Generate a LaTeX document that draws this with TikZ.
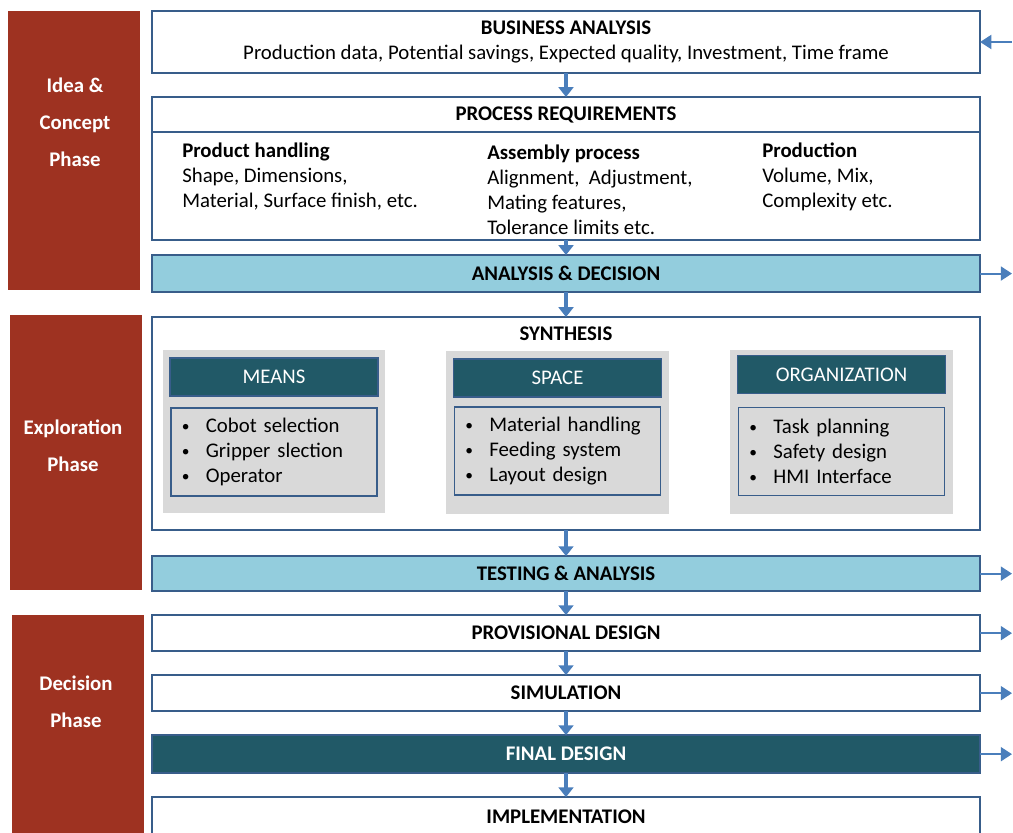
\documentclass[tikz,border=0pt]{standalone}
\usepackage{fontspec}
\setmainfont{Carlito}
\usetikzlibrary{positioning,arrows.meta}

\definecolor{phasered}{RGB}{158,50,33}
\definecolor{frameblue}{RGB}{56,93,138}
\definecolor{arrowblue}{RGB}{74,126,187}
\definecolor{lightcyan}{RGB}{147,205,221}
\definecolor{darkteal}{RGB}{33,89,103}
\definecolor{panelgray}{RGB}{217,217,217}

\newcommand{\listdot}{\raisebox{0.8pt}{\fontsize{11}{11}\selectfont\textbullet}\hspace{11.5pt}}

\begin{document}
\begin{tikzpicture}[x=0.025cm, y=-0.025cm, node distance=0.6cm, font=\fontsize{14.8}{17.7}\selectfont]
    % Styles
    \tikzstyle{stage}=[rectangle, draw=frameblue, line width=1.6pt, fill=white, minimum width=20.7cm, inner sep=0pt, outer sep=0pt, align=center]
    \tikzstyle{phase}=[rectangle, fill=phasered, minimum width=3.3cm, inner sep=0pt]
    \tikzstyle{phasetext}=[text=white, font=\bfseries\fontsize{14.8}{26.2}\selectfont, align=center]
    \tikzstyle{panel}=[rectangle, fill=panelgray, minimum width=5.55cm, minimum height=4.075cm, outer sep=0pt]
    \tikzstyle{panelhead}=[rectangle, draw=frameblue, line width=1.2pt, fill=darkteal, text=white, minimum width=5.2cm, minimum height=0.95cm, outer sep=0pt]
    \tikzstyle{panellist}=[rectangle, draw=frameblue, line width=1.2pt, fill=panelgray, minimum width=5.15cm, minimum height=2.2cm, text width=4.6cm, align=left, outer sep=0pt]
    \tikzstyle{column}=[anchor=north west, inner sep=0pt, align=left]
    \tikzstyle{flow}=[-{Triangle[width=10.5pt,length=7pt]}, arrowblue, line width=2.2pt]
    \tikzstyle{side}=[-{Triangle[width=10pt,length=8pt]}, arrowblue, line width=1.4pt]

    \useasboundingbox (0,0) rectangle (1013,833);
    \clip (0,0) rectangle (1013,833);

    % Phases on the left
    \node (idea) [phase, minimum height=6.975cm] at (74,150.5) {};
    \node (idealabel) [phasetext] at (75,122) {Idea \&\\Concept\\Phase};
    \node (explore) [phase, minimum height=6.875cm] at (76,452.5) {};
    \node (explorelabel) [phasetext] at (73,445.5) {Exploration\\Phase};
    \node (decide) [phase, minimum height=5.875cm] at (78,732.5) {};
    \node (decidelabel) [phasetext] at (76,702) {Decision\\Phase};

    % Main column
    \node (business) [stage, minimum height=1.55cm] at (566,42) {\textbf{BUSINESS ANALYSIS}\\[-0.5pt]Production data, Potential savings, Expected quality, Investment, Time frame};
    \node (reqhead) [stage, minimum height=0.875cm, below=of business] {\textbf{PROCESS REQUIREMENTS}};
    \node (reqbody) [stage, minimum height=2.7cm, below=0pt of reqhead] {};
    \node (analysis) [stage, fill=lightcyan, minimum height=0.925cm, below=0.375cm of reqbody] {\textbf{ANALYSIS \& DECISION}};
    \node (synthesis) [stage, minimum height=5.325cm, below=0.625cm of analysis] {};
    \node (synthead) at ([yshift=-0.425cm]synthesis.north) {\textbf{SYNTHESIS}};
    \node (testing) [stage, fill=lightcyan, minimum height=0.875cm, below=0.65cm of synthesis] {\textbf{TESTING \& ANALYSIS}};
    \node (provisional) [stage, minimum height=0.9cm, below=of testing] {\textbf{PROVISIONAL DESIGN}};
    \node (simulation) [stage, minimum height=0.9cm, below=of provisional] {\textbf{SIMULATION}};
    \node (final) [stage, fill=darkteal, text=white, minimum height=0.95cm, below=of simulation] {\textbf{FINAL DESIGN}};
    \node (implementation) [stage, minimum height=1.0cm, below=of final] {\textbf{IMPLEMENTATION}};

    % Process requirement columns
    \node (handling) [column] at (182,143) {\textbf{Product handling}\\Shape, Dimensions,\\Material, Surface finish, etc.};
    \node (assembly) [column] at (487,145) {\textbf{Assembly process}\\Alignment,\ \ Adjustment,\\Mating features,\\Tolerance limits etc.};
    \node (production) [column] at (762,143) {\textbf{Production}\\Volume, Mix,\\Complexity etc.};

    % Synthesis panels
    \node (means) [panel] at (274,431.5) {};
    \node (meanshead) [panelhead, below=0.2cm of means.north] {MEANS};
    \node (meanslist) [panellist, below=0.3cm of meanshead] {\listdot Cobot selection\\\listdot Gripper\ slection\\\listdot Operator};
    \node (space) [panel] at (557.5,432.5) {};
    \node (spacehead) [panelhead, below=0.2cm of space.north] {SPACE};
    \node (spacelist) [panellist, below=0.25cm of spacehead] {\listdot Material handling\\\listdot Feeding system\\\listdot Layout design};
    \node (organization) [panel] at (841.5,432) {};
    \node (organizationhead) [panelhead, below=0.125cm of organization.north] {ORGANIZATION};
    \node (organizationlist) [panellist, below=0.35cm of organizationhead] {\listdot Task planning\\\listdot Safety design\\\listdot HMI Interface};

    % Arrows down the column
    \draw[flow] (business.south) -- (reqhead.north);
    \draw[flow] (reqbody.south) -- (analysis.north);
    \draw[flow] (analysis.south) -- (synthesis.north);
    \draw[flow] (synthesis.south) -- (testing.north);
    \draw[flow] (testing.south) -- (provisional.north);
    \draw[flow] (provisional.south) -- (simulation.north);
    \draw[flow] (simulation.south) -- (final.north);
    \draw[flow] (final.south) -- (implementation.north);

    % Arrows at the right edge
    \coordinate (rim) at (1012,0);
    \draw[side] (rim |- business.east) -- (business.east);
    \draw[side] (analysis.east) -- (rim |- analysis.east);
    \draw[side] (testing.east) -- (rim |- testing.east);
    \draw[side] (provisional.east) -- (rim |- provisional.east);
    \draw[side] (simulation.east) -- (rim |- simulation.east);
    \draw[side] (final.east) -- (rim |- final.east);

\end{tikzpicture}
\end{document}
